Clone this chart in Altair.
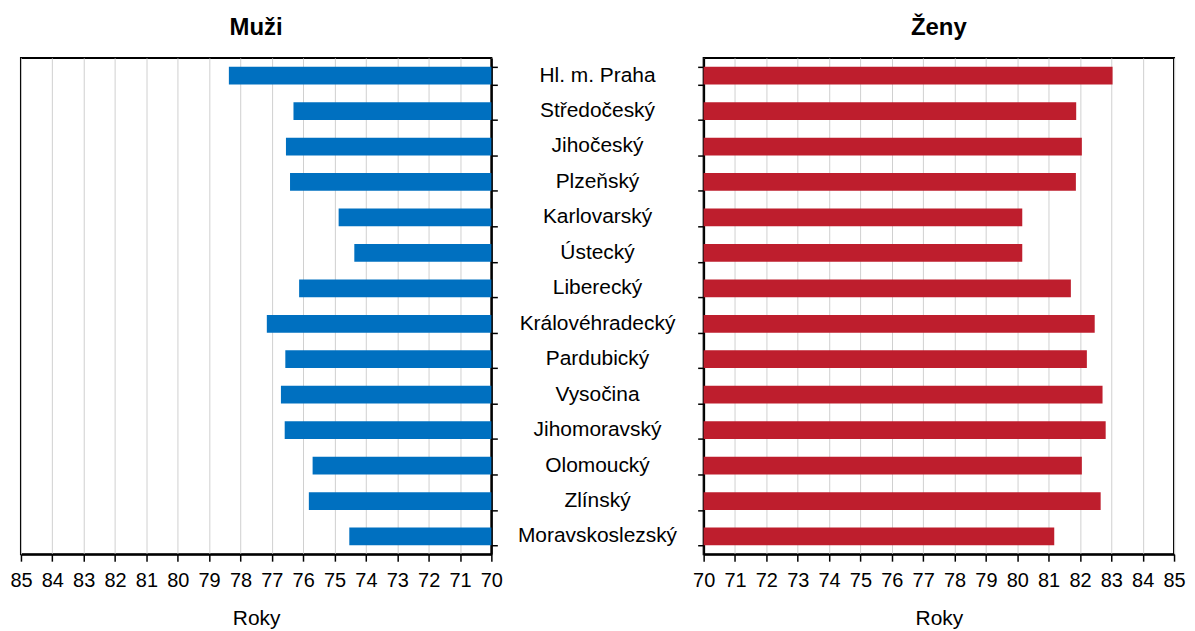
import altair as alt
import pandas as pd

regions = ["Hl. m. Praha", "Středočeský", "Jihočeský", "Plzeňský", "Karlovarský",
           "Ústecký", "Liberecký", "Královéhradecký", "Pardubický", "Vysočina",
           "Jihomoravský", "Olomoucký", "Zlínský", "Moravskoslezský"]
muzi = [78.37, 76.31, 76.55, 76.42, 74.87, 74.37, 76.13, 77.16, 76.57, 76.71,
        76.59, 75.70, 75.82, 74.53]
zeny = [83.04, 81.88, 82.06, 81.87, 80.16, 80.16, 81.71, 82.47, 82.22, 82.72,
        82.82, 82.06, 82.66, 81.18]
ticks = list(range(70, 86))

df = pd.DataFrame({"region": regions, "muzi": muzi, "zeny": zeny})

W, H, GAP = 472, 498, 213
ysc = alt.Scale(paddingInner=0.5, paddingOuter=0.25)

def xaxis():
    return alt.Axis(values=ticks, format="d", title="Roky", grid=True,
                    gridColor="#D0D0D0", gridWidth=1, domainColor="black",
                    domainWidth=2, tickColor="black", tickWidth=1.5, tickSize=7,
                    labelPadding=9, titlePadding=18, labelOverlap=False,
                    labelFlush=False)

def yaxis(orient):
    return alt.Axis(orient=orient, tickBand="extent", labels=False, title=None,
                    domainColor="black", domainWidth=2, tickColor="black",
                    tickWidth=1.5, tickSize=6, grid=False)

def title(t):
    return alt.TitleParams(t, fontSize=24, fontWeight="bold", color="black",
                           anchor="middle", offset=18)

left = alt.Chart(df).mark_bar(color="#0070C0").encode(
    x=alt.X("muzi:Q", scale=alt.Scale(domain=[70, 85], reverse=True, zero=False, nice=False),
            axis=xaxis()),
    x2=alt.datum(70),
    y=alt.Y("region:N", sort=regions, scale=ysc, axis=yaxis("right")),
).properties(width=W, height=H, title=title("Muži"))

middle = alt.Chart(df).mark_text(fontSize=21, color="black", align="center",
                                 baseline="middle", font="Liberation Sans").encode(
    y=alt.Y("region:N", sort=regions, scale=ysc, axis=None),
    x=alt.value(GAP / 2),
    text="region:N",
).properties(width=GAP, height=H, view=alt.ViewBackground(stroke=None))

right = alt.Chart(df).mark_bar(color="#BE1E2D").encode(
    x=alt.X("zeny:Q", scale=alt.Scale(domain=[70, 85], zero=False, nice=False),
            axis=xaxis()),
    x2=alt.datum(70),
    y=alt.Y("region:N", sort=regions, scale=ysc, axis=yaxis("left")),
).properties(width=W, height=H, title=title("Ženy"))

chart = alt.hconcat(left, middle, right, spacing=0, bounds="flush").properties(
    padding={"left": 0, "top": 6, "right": 0, "bottom": 0}
).configure(font="Liberation Sans").configure_view(
    stroke="black", strokeWidth=2
).configure_axis(
    labelFontSize=20, labelColor="black", titleFontSize=21, titleFontWeight="normal",
    titleColor="black", labelFont="Liberation Sans", titleFont="Liberation Sans"
).configure_title(font="Liberation Sans")

chart.save("out.html", embed_options={"renderer": "svg", "actions": False})
